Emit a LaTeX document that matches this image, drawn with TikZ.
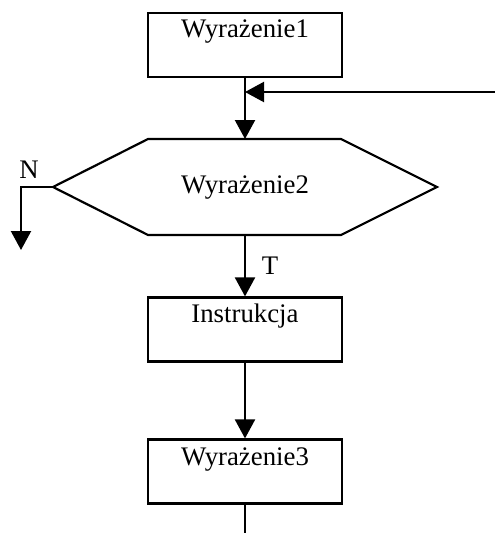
\documentclass[tikz,border=0pt]{standalone}
\usepackage{fontspec}
\setmainfont{Liberation Serif}
\usetikzlibrary{arrows.meta}
\begin{document}
\begin{tikzpicture}[x=1pt,y=-1pt,
  line width=2.2pt,
  box/.style={draw, rectangle, minimum width=194pt, minimum height=64pt, inner sep=0pt},
  txt/.style={font=\fontsize{26.8}{32}\selectfont, inner sep=0pt, anchor=base},
  arr/.style={-{Triangle[length=19pt,width=20pt]}}]
  \useasboundingbox (0,0) rectangle (495,533);

  % process boxes
  \node[box] (b1) at (245,45) {};
  \node[box] (b2) at (245,329.5) {};
  \node[box] (b3) at (245,471.5) {};

  % box captions, set near the top edge
  \node[txt] (t1) at ([yshift=-26pt]b1.north) {Wyrażenie1};
  \node[txt] (t2) at ([yshift=-26pt]b2.north) {Instrukcja};
  \node[txt] (t3) at ([yshift=-27pt]b3.north) {Wyrażenie3};

  % decision hexagon
  \coordinate (hexL) at (53,187);
  \coordinate (hexR) at (437,187);
  \coordinate (hexT) at (245,139);
  \coordinate (hexB) at (245,235);
  \draw[line join=miter] (hexL) -- (148,139) -- (341,139) -- (hexR)
        -- (341,235) -- (148,235) -- cycle;
  \node[txt] (t4) at (245,193) {Wyrażenie2};

  % free ends
  \coordinate (fb) at (495,92);
  \coordinate (nEnd) at (21,250);
  \coordinate (out) at (245,533);

  % connectors
  \draw[arr] (b1.south) -- (hexT);
  \draw[arr] (fb) -- (fb -| b1.south);
  \draw[arr] (hexL) -| (nEnd);
  \draw[arr] (hexB) -- (b2.north);
  \draw[arr] (b2.south) -- (b3.north);
  \draw (b3.south) -- (out);

  % branch labels
  \node[txt] (lN) at (29,178) {N};
  \node[txt] (lT) at (270,274) {T};
\end{tikzpicture}
\end{document}
